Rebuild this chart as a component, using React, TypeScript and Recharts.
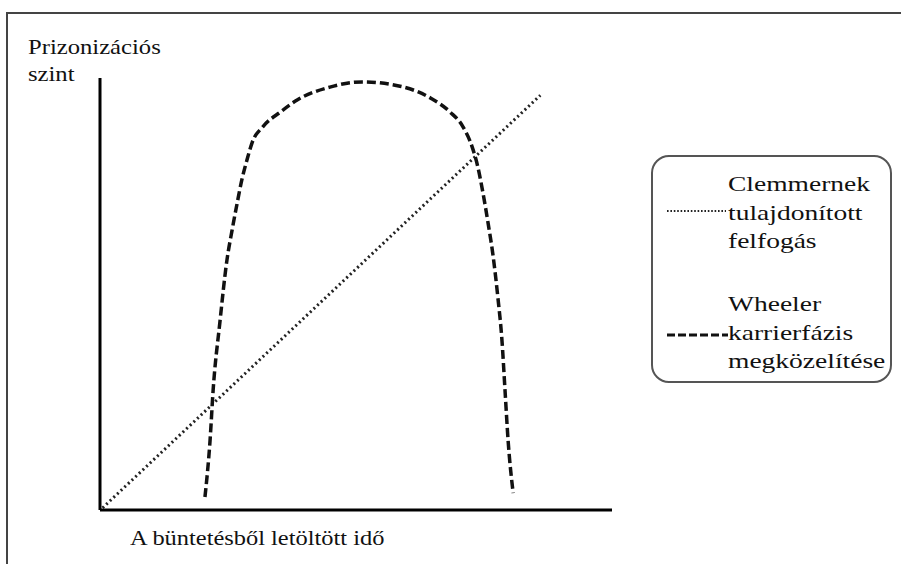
import React from 'react';
import { LineChart, Line, XAxis, YAxis } from 'recharts';

// Clemmer: straight rise over time
const clemmerTime = [0.5, 86];
const clemmerLevel = [0.5, 96];

// Wheeler: inverted-U career-phase curve
const wheelerTime = [20.5, 21.5, 22.1, 23.4, 24.8, 25.8, 26.8, 27.7, 28.7, 29.7, 31.8, 35.2, 38.5, 44.9, 51.2, 58.6, 64.5, 68.4, 70.9, 72.7, 73.8, 74.8, 75.8, 76.8, 77.7, 78.5, 79.1, 79.7, 80.7];
const wheelerLevel = [3.0, 16.2, 27.8, 43.3, 57.9, 64.8, 71.1, 76.4, 81.0, 85.0, 88.7, 92.1, 94.9, 97.9, 99.1, 98.1, 95.4, 92.1, 88.7, 84.0, 79.4, 73.4, 66.4, 58.6, 49.3, 39.4, 27.8, 16.2, 3.9];

const yTitle = ['Prizonizációs', 'szint'];
const xTitle = 'A büntetésből letöltött idő';
const legendClemmer = ['Clemmernek', 'tulajdonított', 'felfogás'];
const legendWheeler = ['Wheeler', 'karrierfázis', 'megközelítése'];

const clemmerData = clemmerTime.map((t, i) => ({ t, v: clemmerLevel[i] }));
const wheelerData = wheelerTime.map((t, i) => ({ t, v: wheelerLevel[i] }));

const font = '"Liberation Serif", "Times New Roman", serif';
const textStyle: React.CSSProperties = {
    fontFamily: font, fontSize: 22, color: '#111', lineHeight: '28.5px', whiteSpace: 'nowrap', transformOrigin: 'left top',
};

const LegendBox = () => (
    <div style={{ position: 'absolute', left: 651, top: 155, width: 241, height: 228, border: '2px solid #555', borderRadius: 18, boxSizing: 'border-box', background: '#fff' }}>
        <div style={{ ...textStyle, position: 'absolute', left: 75, top: 13, transform: 'scaleX(1.25)' }}>
            {legendClemmer.map(s => <div key={s}>{s}</div>)}
        </div>
        <svg style={{ position: 'absolute', left: 13, top: 50 }} width={62} height={8}>
            <line x1={1} y1={4} x2={60} y2={4} stroke="#222" strokeWidth={2} strokeDasharray="1.6 1.8" />
        </svg>
        <div style={{ ...textStyle, position: 'absolute', left: 75, top: 133, transform: 'scaleX(1.25)' }}>
            {legendWheeler.map(s => <div key={s}>{s}</div>)}
        </div>
        <svg style={{ position: 'absolute', left: 13, top: 174 }} width={64} height={8}>
            <line x1={1} y1={4} x2={62} y2={4} stroke="#111" strokeWidth={3} strokeDasharray="8 3" />
        </svg>
    </div>
);

export default function App() {
    return (
        <div style={{ position: 'absolute', left: 0, top: 0, width: 901, height: 564, background: '#fff', overflow: 'hidden' }}>
            <div style={{ position: 'absolute', left: 6, top: 12, width: 900, height: 560, borderTop: '2px solid #444', borderLeft: '2px solid #444' }} />
            <div style={{ ...textStyle, position: 'absolute', left: 28, top: 33, lineHeight: '27px', transform: 'scaleX(1.12)' }}>
                {yTitle.map(s => <div key={s}>{s}</div>)}
            </div>
            <div style={{ ...textStyle, position: 'absolute', left: 130, top: 524, transform: 'scaleX(1.11)' }}>{xTitle}</div>
            <div style={{ position: 'absolute', left: 0, top: 0 }}>
                <LineChart width={901} height={564} margin={{ top: 78, right: 289, bottom: 53, left: 99 }}>
                    <XAxis type="number" dataKey="t" domain={[0, 100]} height={1} tick={false} tickLine={false}
                        axisLine={{ stroke: '#000', strokeWidth: 3 }} allowDataOverflow />
                    <YAxis type="number" dataKey="v" domain={[0, 100]} width={1} tick={false} tickLine={false}
                        axisLine={{ stroke: '#000', strokeWidth: 3 }} allowDataOverflow />
                    <Line data={clemmerData} dataKey="v" type="linear" stroke="#222" strokeWidth={3}
                        strokeDasharray="2 3" dot={false} isAnimationActive={false} name="Clemmer" />
                    <Line data={wheelerData} dataKey="v" type="monotone" stroke="#111" strokeWidth={3.5}
                        strokeDasharray="9 4" dot={false} isAnimationActive={false} name="Wheeler" />
                </LineChart>
            </div>
            <LegendBox />
        </div>
    );
}
